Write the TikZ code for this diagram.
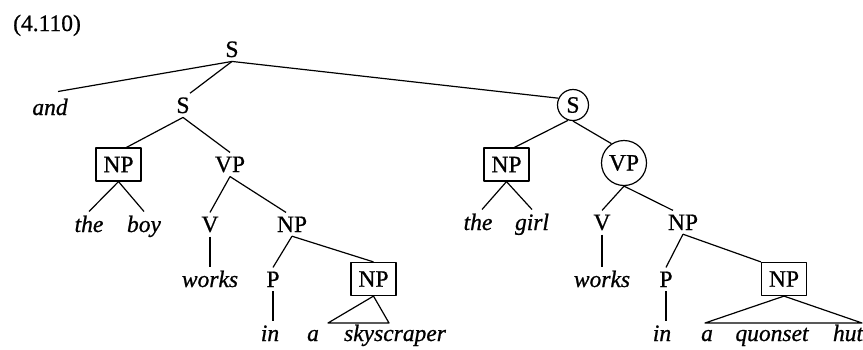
\documentclass[tikz,border=0pt]{standalone}
\usepackage{fontspec}
\setmainfont[FakeBold=0.8]{Liberation Serif}
\begin{document}
\begin{tikzpicture}[x=1pt,y=-1pt,
  every node/.style={font=\fontsize{23.5}{27}\selectfont},
  lab/.style={anchor=base, inner sep=4pt},
  wd/.style={anchor=base, inner sep=4pt, font=\fontsize{23.5}{27}\selectfont\itshape},
  boxed/.style={draw, line width=1.2pt, minimum width=45pt, minimum height=33pt, inner sep=0pt},
  circ/.style={draw, circle, line width=1.2pt, inner sep=0pt},
  edge/.style={line width=1.2pt},
  line join=round]
\useasboundingbox (0,0) rectangle (863,349);
% title
\node[anchor=base west, inner sep=0pt] (title) at (13,31) {(4.110)};
% left conjunct
\node[lab] (S0) at (232,57) {S};
\node[wd] (and) at (50,115) {and};
\node[lab] (S1) at (183,113) {S};
\node[boxed] (NPa) at (118.5,164.5) {NP};
\node[lab] (VPa) at (230,172) {VP};
\node[wd] (the1) at (89,232) {the};
\node[wd] (boy1) at (144,232) {boy};
\node[lab] (Va) at (210,232) {V};
\node[lab] (NPb) at (292,232) {NP};
\node[wd] (works1) at (210,287) {works};
\node[lab] (Pa) at (273,287) {P};
\node[boxed] (NPc) at (373.5,279) {NP};
\node[wd] (in1) at (270,341) {in};
\node[wd] (a1) at (313,341) {a};
\node[wd] (sky) at (395,341) {skyscraper};
\coordinate (tal) at (328,323);
\coordinate (tar) at (389,323);
% right conjunct
\node[circ, minimum size=31pt] (Sc) at (573,105) {S};
\node[boxed] (NPd) at (506.5,164.5) {NP};
\node[circ, minimum size=45pt] (VPc) at (624,163) {VP};
\node[wd] (the2) at (478,230) {the};
\node[wd] (girl2) at (532,230) {girl};
\node[lab] (Vb) at (602,230) {V};
\node[lab] (NPe) at (683,230) {NP};
\node[wd] (works2) at (602,287) {works};
\node[lab] (Pb) at (666,287) {P};
\node[boxed] (NPf) at (784,279) {NP};
\node[wd] (in2) at (662,341) {in};
\node[wd] (a2) at (707,341) {a};
\node[wd] (quon) at (772,341) {quonset};
\node[wd] (hut) at (848,341) {hut};
\coordinate (tbl) at (705,323);
\coordinate (tbr) at (862,323);
% edges left
\draw[edge] (S0.south) -- ([xshift=8pt,yshift=3pt]and.north);
\draw[edge] (S0.south) -- ([xshift=7pt]S1.north);
\draw[edge] (S0.south) -- (Sc.155);
\draw[edge] (S1.south) -- ([xshift=8pt]NPa.north);
\draw[edge] (S1.south) -- (VPa.north);
\draw[edge] (NPa.south) -- (the1.north);
\draw[edge] (NPa.south) -- (boy1.north);
\draw[edge] (VPa.south) -- (Va.north);
\draw[edge] (VPa.south) -- ([xshift=-6pt]NPb.north);
\draw[edge] (Va.south) -- (works1.north);
\draw[edge] (NPb.south) -- (Pa.north);
\draw[edge] (NPb.south) -- (NPc.north);
\draw[edge] (Pa.south) -- (Pa.south |- in1.north);
\draw[edge] (NPc.south) -- (tal) -- (tar) -- cycle;
% edges right
\draw[edge] (Sc.252) -- ([xshift=8pt]NPd.north);
\draw[edge] (Sc.south) -- (VPc.123);
\draw[edge] (NPd.south) -- ([xshift=4pt]the2.north);
\draw[edge] (NPd.south) -- (girl2.north);
\draw[edge] (VPc.south) -- (Vb.north);
\draw[edge] (VPc.south) -- ([xshift=-10pt]NPe.north);
\draw[edge] (Vb.south) -- (works2.north);
\draw[edge] (NPe.south) -- (Pb.north);
\draw[edge] (NPe.south) -- (NPf.north west);
\draw[edge] (Pb.south) -- (Pb.south |- in2.north);
\draw[edge] (NPf.south) -- (tbl) -- (tbr) -- cycle;
\end{tikzpicture}
\end{document}
